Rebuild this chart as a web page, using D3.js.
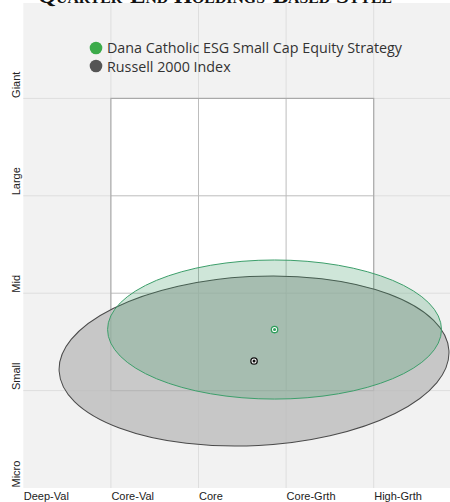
<!DOCTYPE html>
<html>
<head>
<meta charset="utf-8">
<script src="https://cdn.jsdelivr.net/npm/d3@7"></script>
<style>
  body { margin: 0; background: #fff; }
  svg { display: block; }
</style>
</head>
<body>
<div id="viz"></div>
<script>
// style / size categories
var styleLabels = ["Deep-Val", "Core-Val", "Core", "Core-Grth", "High-Grth"];
var sizeLabels = ["Micro", "Small", "Mid", "Large", "Giant"];

// ownership zones (centroid + spread, in style-box units)
var seriesNames = ["Dana Catholic ESG Small Cap Equity Strategy", "Russell 2000 Index"];
var centerX = [2.868, 2.634];
var centerY = [1.627, 1.304];
var spreadX = [1.906, 2.228];
var spreadY = [0.714, 0.868];
var tiltDeg = [0, 3];

var width = 450, height = 502;

var x = d3.scaleLinear().domain([0, 5]).range([23.3, 461.3]);
var y = d3.scaleLinear().domain([0, 5]).range([488, 1]);

var svg = d3.select("#viz").append("svg")
  .attr("width", width)
  .attr("height", height);

// plot background
svg.append("rect")
  .attr("x", x(0)).attr("y", 3)
  .attr("width", x(5) - x(0)).attr("height", y(0) - 3)
  .attr("fill", "#f2f2f2");

// light grid outside the box
svg.selectAll(".vgrid")
  .data([1, 2, 3, 4])
  .join("line")
  .attr("x1", d => x(d)).attr("x2", d => x(d))
  .attr("y1", 3).attr("y2", y(0))
  .attr("stroke", "#dedede").attr("stroke-width", 1);

svg.selectAll(".hgrid")
  .data([1, 2, 3, 4])
  .join("line")
  .attr("x1", x(0)).attr("x2", x(5))
  .attr("y1", d => y(d)).attr("y2", d => y(d))
  .attr("stroke", "#dedede").attr("stroke-width", 1);

// the 3x3 style box
svg.append("rect")
  .attr("x", x(1)).attr("y", y(4))
  .attr("width", x(4) - x(1)).attr("height", y(1) - y(4))
  .attr("fill", "#fff");

svg.selectAll(".boxv")
  .data([2, 3])
  .join("line")
  .attr("x1", d => x(d)).attr("x2", d => x(d))
  .attr("y1", y(4)).attr("y2", y(1))
  .attr("stroke", "#bdbdbd");

svg.selectAll(".boxh")
  .data([2, 3])
  .join("line")
  .attr("x1", x(1)).attr("x2", x(4))
  .attr("y1", d => y(d)).attr("y2", d => y(d))
  .attr("stroke", "#bdbdbd");

svg.append("rect")
  .attr("x", x(1)).attr("y", y(4))
  .attr("width", x(4) - x(1)).attr("height", y(1) - y(4))
  .attr("fill", "none")
  .attr("stroke", "#a9a9a9").attr("stroke-width", 1.2);

// zones: benchmark first, then the strategy on top
var fills = ["#3f9c68", "#bbbbbb"],
    fillOp = [0.25, 0.8],
    strokes = ["#3d9f6b", "#4a4a4a"],
    dotCol = ["#2f9e5c", "#111"];

[1, 0].forEach(function(i) {
  svg.append("ellipse")
    .attr("cx", 0).attr("cy", 0)
    .attr("rx", x(spreadX[i]) - x(0))
    .attr("ry", y(0) - y(spreadY[i]))
    .attr("transform", "translate(" + x(centerX[i]) + "," + y(centerY[i]) + ") rotate(" + (-tiltDeg[i]) + ")")
    .attr("fill", fills[i]).attr("fill-opacity", fillOp[i])
    .attr("stroke", strokes[i]).attr("stroke-width", 1);
});

[1, 0].forEach(function(i) {
  svg.append("circle")
    .attr("cx", x(centerX[i])).attr("cy", y(centerY[i]))
    .attr("r", 3.2)
    .attr("fill", "#fff")
    .attr("stroke", dotCol[i]).attr("stroke-width", 1.3);
  svg.append("circle")
    .attr("cx", x(centerX[i])).attr("cy", y(centerY[i]))
    .attr("r", 1.5)
    .attr("fill", dotCol[i]);
});

// axes
var xAxis = d3.axisBottom(x)
  .tickValues([0, 1, 2, 3, 4])
  .tickSize(0)
  .tickFormat((d, i) => styleLabels[i]);

var gx = svg.append("g")
  .attr("transform", "translate(0," + y(0) + ")")
  .call(xAxis);
gx.select(".domain").remove();
gx.selectAll("text")
  .attr("text-anchor", "start")
  .attr("y", 12).attr("dy", 0)
  .attr("fill", "#222")
  .style("font-family", "'Liberation Sans', Arial, sans-serif")
  .style("font-size", "11px");

var yAxis = d3.axisLeft(y)
  .tickValues([0, 1, 2, 3, 4])
  .tickSize(0)
  .tickFormat((d, i) => sizeLabels[i]);

var gy = svg.append("g")
  .attr("transform", "translate(" + x(0) + ",0)")
  .call(yAxis);
gy.select(".domain").remove();
gy.selectAll(".tick text")
  .attr("x", 0).attr("dy", 0)
  .attr("transform", "translate(-3,-1) rotate(-90)")
  .attr("text-anchor", "start")
  .attr("fill", "#222")
  .style("font-family", "'Liberation Sans', Arial, sans-serif")
  .style("font-size", "11px");

// legend
var legendY = [48, 66], textY = [52.5, 72];
var legendFill = ["#3cab4a", "#555"];
seriesNames.forEach(function(name, i) {
  svg.append("circle")
    .attr("cx", 96).attr("cy", legendY[i]).attr("r", 6.3)
    .attr("fill", legendFill[i]);
  svg.append("text")
    .attr("x", 107).attr("y", textY[i])
    .attr("fill", "#333")
    .style("font-family", "'Open Sans', sans-serif")
    .style("font-size", "14.3px")
    .text(name);
});

// title, mostly clipped off the top
svg.append("text")
  .attr("x", 38).attr("y", 3)
  .attr("textLength", 354)
  .attr("lengthAdjust", "spacingAndGlyphs")
  .attr("fill", "#111")
  .style("font-family", "'Liberation Serif', serif")
  .style("font-weight", "bold")
  .style("font-variant", "small-caps")
  .style("font-size", "22px")
  .text("Quarter-End Holdings-Based Style");
</script>
</body>
</html>
